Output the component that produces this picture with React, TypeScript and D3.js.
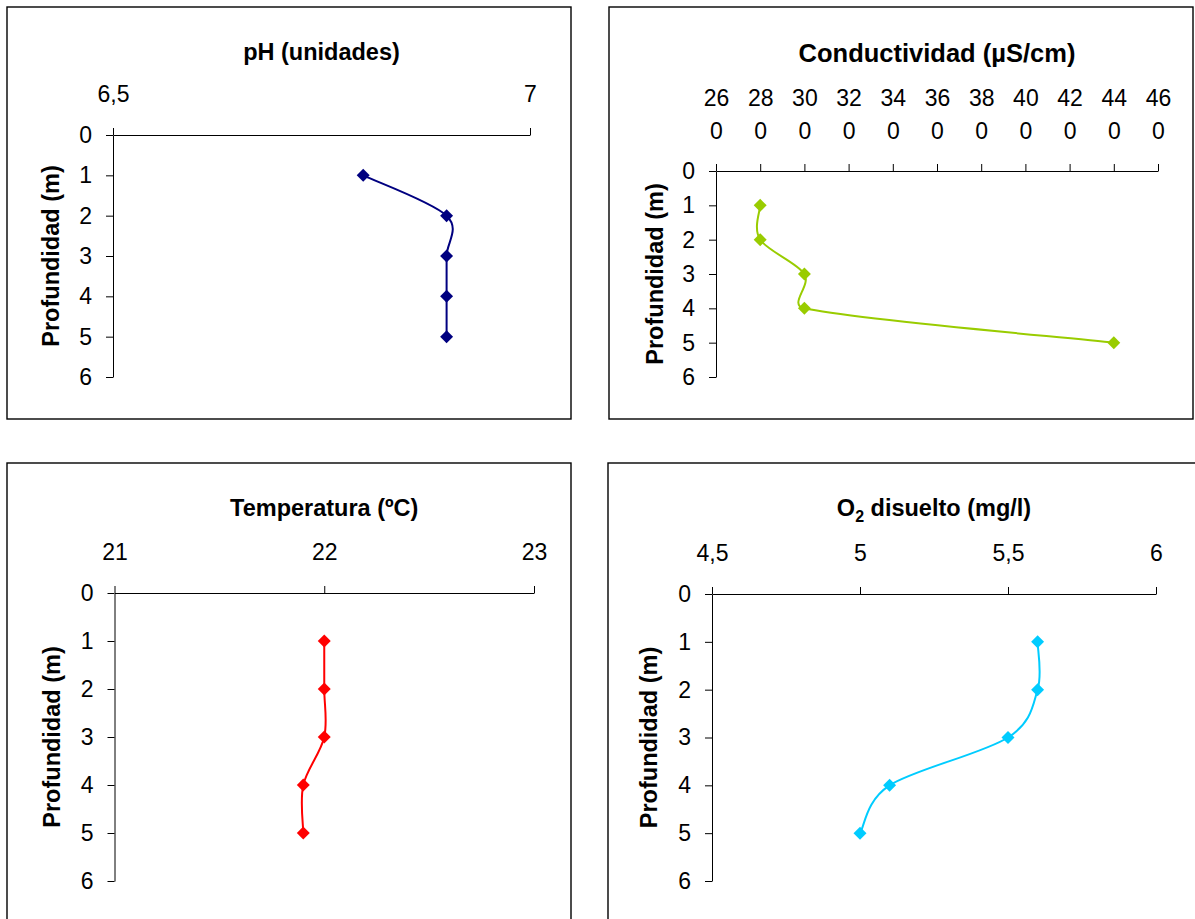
import { useEffect, useRef } from "react";
import * as d3 from "d3";

const FONT = "'Liberation Sans', Arial, sans-serif";
const WIDTH = 1195;
const HEIGHT = 919;

// Depth of each sample (m) and the depth axis ticks
const depths = [1, 2, 3, 4, 5];
const depthTicks = [0, 1, 2, 3, 4, 5, 6];

// Measured profiles
const phValues = [6.8, 6.9, 6.9, 6.9, 6.9];
const conductividadValues = [280, 280, 300, 300, 440];
const temperaturaValues = [22.0, 22.0, 22.0, 21.9, 21.9];
const oxigenoValues = [5.6, 5.6, 5.5, 5.1, 5.0];

// Top axis ticks
const phTicks = [6.5, 7];
const conductividadTicks = [260, 280, 300, 320, 340, 360, 380, 400, 420, 440, 460];
const temperaturaTicks = [21, 22, 23];
const oxigenoTicks = [4.5, 5, 5.5, 6];

interface Box {
  x: number;
  y: number;
  w: number;
  h: number;
}

interface Panel {
  title: string;
  subscriptTitle?: [string, string, string];
  values: number[];
  ticks: number[];
  color: string;
  wrapLabels?: boolean;
  box: Box;
  plot: { x0: number; x1: number; y0: number; y1: number };
  titleY: number;
  titleSize: number;
  yLabelX: number;
}

const PANELS: Panel[] = [
  {
    title: "pH (unidades)",
    values: phValues,
    ticks: phTicks,
    color: "#000080",
    box: { x: 7, y: 7, w: 564, h: 412 },
    plot: { x0: 113, x1: 530, y0: 135, y1: 377 },
    titleY: 60,
    titleSize: 23.5,
    yLabelX: 59,
  },
  {
    title: "Conductividad (µS/cm)",
    values: conductividadValues,
    ticks: conductividadTicks,
    color: "#99CC00",
    wrapLabels: true,
    box: { x: 609, y: 7, w: 584, h: 412 },
    plot: { x0: 716, x1: 1158, y0: 171, y1: 377 },
    titleY: 62,
    titleSize: 25.5,
    yLabelX: 663,
  },
  {
    title: "Temperatura (ºC)",
    values: temperaturaValues,
    ticks: temperaturaTicks,
    color: "#FF0000",
    box: { x: 7, y: 463, w: 564, h: 480 },
    plot: { x0: 114.5, x1: 534, y0: 593, y1: 881 },
    titleY: 516,
    titleSize: 23.5,
    yLabelX: 60,
  },
  {
    title: "O2 disuelto (mg/l)",
    subscriptTitle: ["O", "2", " disuelto (mg/l)"],
    values: oxigenoValues,
    ticks: oxigenoTicks,
    color: "#00CCFF",
    box: { x: 608, y: 463, w: 600, h: 480 },
    plot: { x0: 712, x1: 1156, y0: 594, y1: 881 },
    titleY: 516,
    titleSize: 23.5,
    yLabelX: 657,
  },
];

const fmtComma = (d: d3.NumberValue) => String(d).replace(".", ",");

// Excel-like smoothed line: Catmull-Rom tangents (1/6 of neighbour span),
// with each control arm capped at half of its own segment.
function excelSmooth(context: d3.Path | CanvasRenderingContext2D) {
  let pts: [number, number][] = [];
  return {
    areaStart() {},
    areaEnd() {},
    lineStart() {
      pts = [];
    },
    point(x: number, y: number) {
      pts.push([x, y]);
    },
    lineEnd() {
      const n = pts.length;
      if (!n) return;
      context.moveTo(pts[0][0], pts[0][1]);
      const arm = (a: [number, number], b: [number, number], len: number) => {
        let dx = (b[0] - a[0]) / 6;
        let dy = (b[1] - a[1]) / 6;
        const m = Math.hypot(dx, dy);
        if (m > len / 2 && m > 0) {
          dx *= len / 2 / m;
          dy *= len / 2 / m;
        }
        return [dx, dy];
      };
      for (let i = 0; i < n - 1; i++) {
        const p0 = pts[Math.max(0, i - 1)];
        const p1 = pts[i];
        const p2 = pts[i + 1];
        const p3 = pts[Math.min(n - 1, i + 2)];
        const len = Math.hypot(p2[0] - p1[0], p2[1] - p1[1]);
        const [ax, ay] = arm(p0, p2, len);
        const [bx, by] = arm(p1, p3, len);
        context.bezierCurveTo(
          p1[0] + ax,
          p1[1] + ay,
          p2[0] - bx,
          p2[1] - by,
          p2[0],
          p2[1]
        );
      }
    },
  };
}

function styleAxis(sel: d3.Selection<SVGGElement, unknown, null, undefined>) {
  sel.attr("font-family", FONT).attr("font-size", 23);
  sel.select(".domain").attr("stroke", "#000").attr("stroke-width", 1);
  sel.selectAll(".tick line").attr("stroke", "#000").attr("stroke-width", 1);
  sel.selectAll(".tick text").attr("fill", "#000");
}

function drawPanel(
  svg: d3.Selection<SVGSVGElement, unknown, null, undefined>,
  p: Panel
) {
  const g = svg.append("g");

  g.append("rect")
    .attr("x", p.box.x)
    .attr("y", p.box.y)
    .attr("width", p.box.w)
    .attr("height", p.box.h)
    .attr("fill", "#fff")
    .attr("stroke", "#000")
    .attr("stroke-width", 1.4);

  const x = d3
    .scaleLinear()
    .domain([p.ticks[0], p.ticks[p.ticks.length - 1]])
    .range([p.plot.x0, p.plot.x1]);
  const y = d3
    .scaleLinear()
    .domain([0, 6])
    .range([p.plot.y0, p.plot.y1]);

  // Top value axis
  const xAxis = g
    .append("g")
    .attr("transform", `translate(0,${p.plot.y0})`)
    .call(
      d3
        .axisTop(x)
        .tickValues(p.ticks)
        .tickSize(7)
        .tickSizeOuter(0)
        .tickPadding(26)
        .tickFormat(fmtComma)
    );
  styleAxis(xAxis);

  // Excel wrapped the 3-digit labels onto two lines ("26" / "0")
  if (p.wrapLabels) {
    xAxis.selectAll<SVGTextElement, number>(".tick text").each(function (d) {
      const label = fmtComma(d);
      const t = d3.select(this).text(null);
      t.append("tspan").attr("x", 0).attr("y", -65).text(label.slice(0, -1));
      t.append("tspan").attr("x", 0).attr("y", -32).text(label.slice(-1));
    });
  }

  // Depth axis
  const yAxis = g
    .append("g")
    .attr("transform", `translate(${p.plot.x0},0)`)
    .call(
      d3
        .axisLeft(y)
        .tickValues(depthTicks)
        .tickSize(7)
        .tickSizeOuter(0)
        .tickPadding(14)
        .tickFormat(d3.format("d"))
    );
  styleAxis(yAxis);

  // Title
  const title = g
    .append("text")
    .attr("x", (p.plot.x0 + p.plot.x1) / 2)
    .attr("y", p.titleY)
    .attr("text-anchor", "middle")
    .attr("font-family", FONT)
    .attr("font-size", p.titleSize)
    .attr("font-weight", "bold");
  if (p.subscriptTitle) {
    const [a, sub, b] = p.subscriptTitle;
    title.append("tspan").text(a);
    title.append("tspan").attr("font-size", 16).attr("dy", 6).text(sub);
    title.append("tspan").attr("dy", -6).text(b);
  } else {
    title.text(p.title);
  }

  // Depth label
  g.append("text")
    .attr(
      "transform",
      `translate(${p.yLabelX},${(p.plot.y0 + p.plot.y1) / 2}) rotate(-90)`
    )
    .attr("text-anchor", "middle")
    .attr("font-family", FONT)
    .attr("font-size", 23.5)
    .attr("font-weight", "bold")
    .text("Profundidad (m)");

  // Smoothed profile line
  const line = d3
    .line<number>()
    .x((v) => x(v))
    .y((_, i) => y(depths[i]))
    .curve(excelSmooth as unknown as d3.CurveFactory);

  g.append("path")
    .datum(p.values)
    .attr("d", line)
    .attr("fill", "none")
    .attr("stroke", p.color)
    .attr("stroke-width", 2);

  // Diamond markers
  g.selectAll("path.marker")
    .data(p.values)
    .join("path")
    .attr("class", "marker")
    .attr("d", d3.symbol(d3.symbolSquare, 84)())
    .attr(
      "transform",
      (v, i) => `translate(${x(v)},${y(depths[i])}) rotate(45)`
    )
    .attr("fill", p.color);
}

export default function App() {
  const svgRef = useRef<SVGSVGElement>(null);

  useEffect(() => {
    if (!svgRef.current) return;
    const svg = d3.select(svgRef.current);
    svg.selectAll("*").remove();

    svg
      .append("rect")
      .attr("width", WIDTH)
      .attr("height", HEIGHT)
      .attr("fill", "#fff");

    PANELS.forEach((p) => drawPanel(svg, p));
  }, []);

  return (
    <svg
      ref={svgRef}
      width={WIDTH}
      height={HEIGHT}
      style={{ position: "absolute", left: 0, top: 0, display: "block" }}
    />
  );
}
